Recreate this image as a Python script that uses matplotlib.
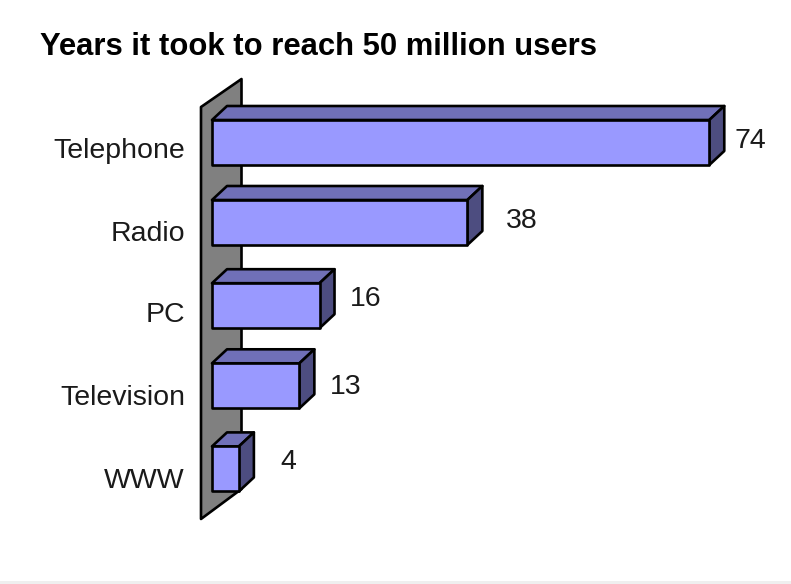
# horizontal 3D-look bar chart: years to reach 50 million users

import matplotlib
matplotlib.use("Agg")
import matplotlib.pyplot as plt
from matplotlib.patches import Polygon

####################### data
categories = ["Telephone", "Radio", "PC", "Television", "WWW"]
years = [74, 38, 16, 13, 4]

####################### scale, in pixels of the 791x584 figure
W = 791.0; H = 584.0
x_zero = 212.0   # pixel of value 0
x_unit = 6.72    # pixels per year
y_first = 142.5  # pixel of first row centre
y_unit = 81.6    # pixels per row

front = "#9999ff"
top = "#7070b8"
side = "#4d4d80"
wall = "#808080"

plt.rcParams["font.family"] = ["Liberation Sans", "DejaVu Sans"]

fig = plt.figure(figsize=(W / 100, H / 100), dpi=100)
ax = fig.add_axes([0, 0, 1, 1])
ax.set_xlim(-x_zero / x_unit, (W - x_zero) / x_unit)
ax.set_ylim((H - y_first) / y_unit, -y_first / y_unit)
ax.axis("off")

dx = 15.0 / x_unit   # bar depth, in data units
dy = 14.0 / y_unit
half = 22.5 / y_unit


def poly(pts, color, z=2):
    ax.add_patch(Polygon(pts, closed=True, facecolor=color, edgecolor="black",
                         linewidth=1.9, joinstyle="round", zorder=z))


# back wall
wx0 = -11.0 / x_unit
wx1 = 29.5 / x_unit
wy_top0 = (107 - y_first) / y_unit
wy_top1 = (79 - y_first) / y_unit
wy_bot0 = (519 - y_first) / y_unit
wy_bot1 = (489 - y_first) / y_unit
poly([(wx0, wy_top0), (wx1, wy_top1), (wx1, wy_bot1), (wx0, wy_bot0)], wall, 1)

# hand offsets in pixels, the original places these unevenly
row_nudge = [0, -1.6, 0, -1.5, 0]
cat_base = [15.5, 18.5, 16.5, 19, 19]
val_base = [5.5, 5.5, 0.5, 8, 0]
val_dx = [41, 54, 46, 46, 49]

for i, v in enumerate(years):
    yc = i + row_nudge[i] / y_unit
    y0 = yc - half
    y1 = yc + half
    poly([(0, y0), (dx, y0 - dy), (v + dx, y0 - dy), (v, y0)], top)
    poly([(v, y0), (v + dx, y0 - dy), (v + dx, y1 - dy), (v, y1)], side)
    poly([(0, y0), (v, y0), (v, y1), (0, y1)], front)
    ax.text(-27 / x_unit, yc + cat_base[i] / y_unit, categories[i], ha="right", va="baseline",
            fontsize=20.5, color="#1a1a1a")
    ax.text(v + val_dx[i] / x_unit, yc + val_base[i] / y_unit, str(v), ha="center", va="baseline",
            fontsize=20.5, color="#1a1a1a")

fig.text(40 / W, 1 - 55 / H, "Years it took to reach 50 million users",
         fontsize=22.3, fontweight="bold", ha="left", va="baseline", color="black")

# light strip along the bottom edge
fig.add_artist(plt.Rectangle((0, 0), 1, 3 / H, transform=fig.transFigure,
                             facecolor="#efefef", edgecolor="none"))

fig.savefig("out.png", dpi=100)
